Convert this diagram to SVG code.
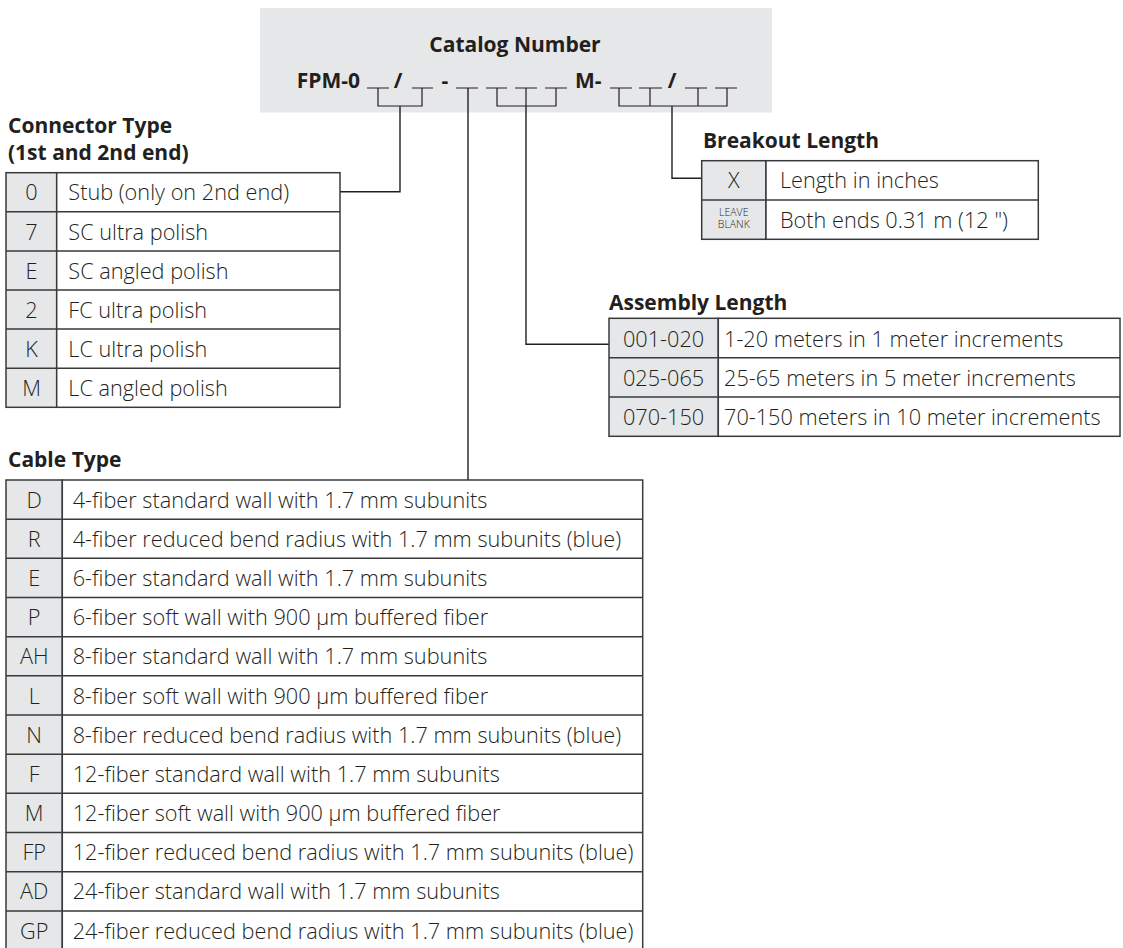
<svg xmlns="http://www.w3.org/2000/svg" width="1123" height="948" viewBox="0 0 1123 948">
<style>
  text { font-family: "Open Sans", "Liberation Sans", sans-serif; fill: #231f20; }
  .t { font-size: 21.7px; font-weight: 300; }
  .b { font-size: 21px; font-weight: bold; }
  .k { font-size: 21.7px; font-weight: 300; text-anchor: middle; }
  .s { font-size: 10.5px; font-weight: 300; text-anchor: middle; }
  .key { fill: #e6e7e8; stroke: #3a3a3a; stroke-width: 1.5; }
  .cell { fill: #ffffff; stroke: #3a3a3a; stroke-width: 1.5; }
  .ln { stroke: #231f20; stroke-width: 1.4; fill: none; }
  .bl { stroke: #231f20; stroke-width: 1.2; fill: none; }
</style>
<rect x="0" y="0" width="1123" height="948" fill="#ffffff"/>

<g id="catalog-number">
  <rect x="260" y="8" width="512" height="104.5" fill="#e6e7e8"/>
  <text class="b" x="515" y="52" text-anchor="middle">Catalog Number</text>
  <text class="b" x="360" y="88" text-anchor="end">FPM-0</text>
  <text class="b" x="398" y="88" text-anchor="middle">/</text>
  <text class="b" x="445" y="88" text-anchor="middle">-</text>
  <text class="b" x="575" y="88">M-</text>
  <text class="b" x="672" y="88" text-anchor="middle">/</text>
  <g class="bl">
    <path d="M367 88H389M412 88H433M456 88H478M486 88H507M515 88H537M545 88H567M610 88H632M639 88H662M685 88H707M715 88H737"/>
    <path d="M378 88V106H422V88"/>
    <path d="M497 88V106H556V88M526 88V106"/>
    <path d="M619 88V106H727V88M650 88V106M698 88V106"/>
  </g>
</g>

<g id="connectors" class="ln">
  <path d="M400 106V191.7H340"/>
  <path d="M468 88V480"/>
  <path d="M526 106V344.3H609"/>
  <path d="M672 106V178.3H701.7"/>
</g>

<g id="connector-type">
  <text class="b" x="8" y="133">Connector Type</text>
  <text class="b" x="8" y="159.5">(1st and 2nd end)</text>
  <rect class="key" x="6" y="172.7" width="50.7" height="234.6"/>
  <rect class="cell" x="56.7" y="172.7" width="283.3" height="234.6"/>
  <path class="cell" d="M6 211.8H340M6 250.9H340M6 290H340M6 329.1H340M6 368.2H340"/>
  <text class="k" x="31.5" y="200.4">0</text>
  <text class="k" x="31.5" y="239.5">7</text>
  <text class="k" x="31.5" y="278.6">E</text>
  <text class="k" x="31.5" y="317.7">2</text>
  <text class="k" x="31.5" y="356.8">K</text>
  <text class="k" x="31.5" y="395.9">M</text>
  <text class="t" x="68.3" y="200.4">Stub (only on 2nd end)</text>
  <text class="t" x="68.3" y="239.5">SC ultra polish</text>
  <text class="t" x="68.3" y="278.6">SC angled polish</text>
  <text class="t" x="68.3" y="317.7">FC ultra polish</text>
  <text class="t" x="68.3" y="356.8">LC ultra polish</text>
  <text class="t" x="68.3" y="395.9">LC angled polish</text>
</g>

<g id="breakout-length">
  <text class="b" x="703" y="148">Breakout Length</text>
  <rect class="key" x="701.7" y="160.7" width="64.3" height="78.6"/>
  <rect class="cell" x="766" y="160.7" width="272.3" height="78.6"/>
  <path class="cell" d="M701.7 200H1038.3"/>
  <text class="k" x="733.8" y="188.2">X</text>
  <text class="s" x="733.8" y="215.5">LEAVE</text>
  <text class="s" x="733.8" y="228">BLANK</text>
  <text class="t" x="780" y="188.2">Length in inches</text>
  <text class="t" x="780" y="227.5">Both ends 0.31 m (12 ")</text>
</g>

<g id="assembly-length">
  <text class="b" x="609" y="310">Assembly Length</text>
  <rect class="key" x="609" y="318.3" width="109.3" height="118"/>
  <rect class="cell" x="718.3" y="318.3" width="401.7" height="118"/>
  <path class="cell" d="M609 357.7H1120M609 397H1120"/>
  <text class="k" x="663.6" y="346.5">001-020</text>
  <text class="k" x="663.6" y="385.9">025-065</text>
  <text class="k" x="663.6" y="425.2">070-150</text>
  <text class="t" x="724" y="346.5">1-20 meters in 1 meter increments</text>
  <text class="t" x="724" y="385.9">25-65 meters in 5 meter increments</text>
  <text class="t" x="724" y="425.2">70-150 meters in 10 meter increments</text>
</g>

<g id="cable-type">
  <text class="b" x="8" y="466.7">Cable Type</text>
  <rect class="key" x="6" y="480" width="56.3" height="470"/>
  <rect class="cell" x="62.3" y="480" width="580.4" height="470"/>
  <path class="cell" d="M6 519.2H642.7M6 558.3H642.7M6 597.5H642.7M6 636.7H642.7M6 675.8H642.7M6 715H642.7M6 754.2H642.7M6 793.3H642.7M6 832.5H642.7M6 871.7H642.7M6 910.9H642.7"/>
  <text class="k" x="34.2" y="507.7">D</text>
  <text class="k" x="34.2" y="546.9">R</text>
  <text class="k" x="34.2" y="586">E</text>
  <text class="k" x="34.2" y="625.2">P</text>
  <text class="k" x="34.2" y="664.4">AH</text>
  <text class="k" x="34.2" y="703.5">L</text>
  <text class="k" x="34.2" y="742.7">N</text>
  <text class="k" x="34.2" y="781.9">F</text>
  <text class="k" x="34.2" y="821">M</text>
  <text class="k" x="34.2" y="860.2">FP</text>
  <text class="k" x="34.2" y="899.4">AD</text>
  <text class="k" x="34.2" y="938.6">GP</text>
  <text class="t" x="72.7" y="507.7">4-fiber standard wall with 1.7 mm subunits</text>
  <text class="t" x="72.7" y="546.9">4-fiber reduced bend radius with 1.7 mm subunits (blue)</text>
  <text class="t" x="72.7" y="586">6-fiber standard wall with 1.7 mm subunits</text>
  <text class="t" x="72.7" y="625.2">6-fiber soft wall with 900 µm buffered fiber</text>
  <text class="t" x="72.7" y="664.4">8-fiber standard wall with 1.7 mm subunits</text>
  <text class="t" x="72.7" y="703.5">8-fiber soft wall with 900 µm buffered fiber</text>
  <text class="t" x="72.7" y="742.7">8-fiber reduced bend radius with 1.7 mm subunits (blue)</text>
  <text class="t" x="72.7" y="781.9">12-fiber standard wall with 1.7 mm subunits</text>
  <text class="t" x="72.7" y="821">12-fiber soft wall with 900 µm buffered fiber</text>
  <text class="t" x="72.7" y="860.2">12-fiber reduced bend radius with 1.7 mm subunits (blue)</text>
  <text class="t" x="72.7" y="899.4">24-fiber standard wall with 1.7 mm subunits</text>
  <text class="t" x="72.7" y="938.6">24-fiber reduced bend radius with 1.7 mm subunits (blue)</text>
</g>
</svg>
